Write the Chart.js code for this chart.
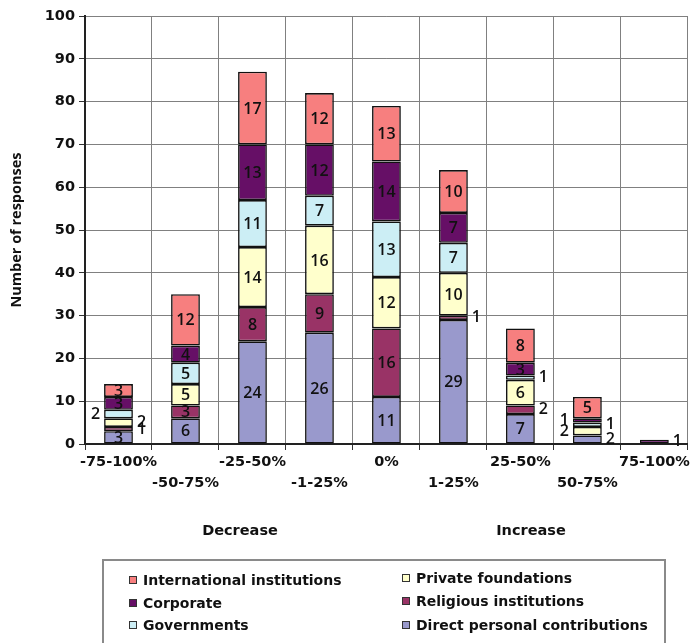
<!DOCTYPE html>
<html>
<head>
<meta charset="utf-8">
<script src="https://cdn.jsdelivr.net/npm/chart.js@4.4.0/dist/chart.umd.min.js"></script>
<style>
  html, body { margin: 0; padding: 0; background: #fff; overflow: hidden; }
  #wrap { position: relative; width: 691px; height: 643px; overflow: hidden; }
  #legend {
    position: absolute; left: 102px; top: 559px; width: 564px; height: 95px;
    border: 2px solid #8a8a8a; box-sizing: border-box;
    font-family: 'DejaVu Sans', sans-serif; font-weight: 700; font-size: 14px; color: #111;
  }
  .item { position: absolute; white-space: nowrap; line-height: 20px; }
  .sw { display: inline-block; width: 6px; height: 6px; border: 1px solid #333; margin-right: 6px; vertical-align: 1px; }
</style>
</head>
<body>
<div id="wrap">
  <canvas id="responsesChart" width="691" height="643"></canvas>
  <div id="legend"></div>
</div>
<script>
var categories = ['-75-100%', '-50-75%', '-25-50%', '-1-25%', '0%', '1-25%', '25-50%', '50-75%', '75-100%'];

// stacked bottom to top
var directPersonal = [3, 6, 24, 26, 11, 29, 7, 2, 0];
var religious = [1, 3, 8, 9, 16, 1, 2, 0, 0];
var privateFoundations = [2, 5, 14, 16, 12, 10, 6, 2, 0];
var governments = [2, 5, 11, 7, 13, 7, 1, 1, 0];
var corporate = [3, 4, 13, 12, 14, 7, 3, 1, 1];
var international = [3, 12, 17, 12, 13, 10, 8, 5, 0];

var yTicks = [0, 10, 20, 30, 40, 50, 60, 70, 80, 90, 100];

// which side small labels go on (outside the bar)
var outsideSide = {
    '0|1': 'right', '0|2': 'right', '0|3': 'left',
    '5|1': 'right',
    '6|1': 'right', '6|3': 'right',
    '7|0': 'right', '7|2': 'left', '7|3': 'right', '7|4': 'left',
    '8|4': 'right'
};

var series = [
    { label: 'Direct personal contributions', data: directPersonal, color: '#9999cc' },
    { label: 'Religious institutions', data: religious, color: '#993366' },
    { label: 'Private foundations', data: privateFoundations, color: '#ffffcc' },
    { label: 'Governments', data: governments, color: '#cceef5' },
    { label: 'Corporate', data: corporate, color: '#660f66' },
    { label: 'International institutions', data: international, color: '#f77f7f' }
];

var labelFont = "'Open Sans', sans-serif";
var axisFont = "'DejaVu Sans', sans-serif";

var segmentLabels = {
    id: 'segmentLabels',
    afterDatasetsDraw: function (chart) {
        var ctx = chart.ctx;
        ctx.save();
        ctx.font = '600 16px ' + labelFont;
        ctx.fillStyle = '#111';
        ctx.textBaseline = 'middle';
        chart.data.datasets.forEach(function (ds, di) {
            var meta = chart.getDatasetMeta(di);
            meta.data.forEach(function (bar, i) {
                var v = ds.data[i];
                if (!v) return;
                var cy = (bar.y + bar.base) / 2;
                var side = outsideSide[i + '|' + di];
                if (side) {
                    ctx.textAlign = side === 'right' ? 'left' : 'right';
                    var x = side === 'right' ? bar.x + bar.width / 2 + 4 : bar.x - bar.width / 2 - 4;
                    ctx.fillText(String(v), x, cy);
                } else {
                    ctx.textAlign = 'center';
                    ctx.fillText(String(v), bar.x, cy + 1);
                }
            });
        });
        // group titles under the axis
        ctx.font = 'bold 14.5px ' + axisFont;
        ctx.textAlign = 'center';
        ctx.fillText('Decrease', 240, 531);
        ctx.fillText('Increase', 531, 531);
        ctx.restore();
    }
};

var ctx = document.getElementById('responsesChart').getContext('2d');

var chart = new Chart(ctx, {
    type: 'bar',
    data: {
        labels: categories.map(function (c, i) { return i % 2 ? ['', c] : [c]; }),
        datasets: series.map(function (s) {
            return {
                label: s.label,
                data: s.data,
                backgroundColor: s.color,
                borderColor: '#111',
                borderWidth: 1.6,
                borderSkipped: false,
                categoryPercentage: 1,
                barPercentage: 0.43
            };
        })
    },
    options: {
        responsive: false,
        animation: false,
        layout: { padding: { top: 16, right: 2, left: 0, bottom: 0 } },
        plugins: { legend: { display: false }, tooltip: { enabled: false } },
        scales: {
            x: {
                stacked: true,
                grid: { color: '#808080', lineWidth: 1, offset: true, tickLength: 6, tickColor: '#333' },
                border: { color: '#222', width: 2 },
                ticks: { color: '#111', font: { family: axisFont, weight: 'bold', size: 14.5, lineHeight: 1.5 }, maxRotation: 0, autoSkip: false, padding: 1 },
                afterFit: function (s) { s.height = 643 - 444; }
            },
            y: {
                stacked: true,
                min: 0,
                max: 100,
                afterBuildTicks: function (s) { s.ticks = yTicks.map(function (v) { return { value: v }; }); },
                grid: { color: '#808080', lineWidth: 1, tickLength: 6, tickColor: '#333' },
                border: { color: '#222', width: 2 },
                ticks: { color: '#111', font: { family: axisFont, weight: 'bold', size: 14.5 }, padding: 4 },
                title: { display: true, text: 'Number of responses', color: '#111', font: { family: labelFont, weight: 'bold', size: 14.5 }, padding: { top: 8, bottom: 0 } },
                afterFit: function (s) { s.width = 85; }
            }
        }
    },
    plugins: [segmentLabels]
});

// legend (column-major, two columns)
var legendOrder = [5, 4, 3, 2, 1, 0];
var legendPos = [[25, 9], [25, 32], [25, 54], [298, 7], [298, 30], [298, 54]];
var legendEl = document.getElementById('legend');
legendOrder.forEach(function (si, k) {
    var s = series[si];
    var d = document.createElement('div');
    d.className = 'item';
    d.style.left = legendPos[k][0] + 'px';
    d.style.top = legendPos[k][1] + 'px';
    d.innerHTML = '<span class="sw" style="background:' + s.color + '"></span>' + s.label;
    legendEl.appendChild(d);
});
</script>
</body>
</html>
